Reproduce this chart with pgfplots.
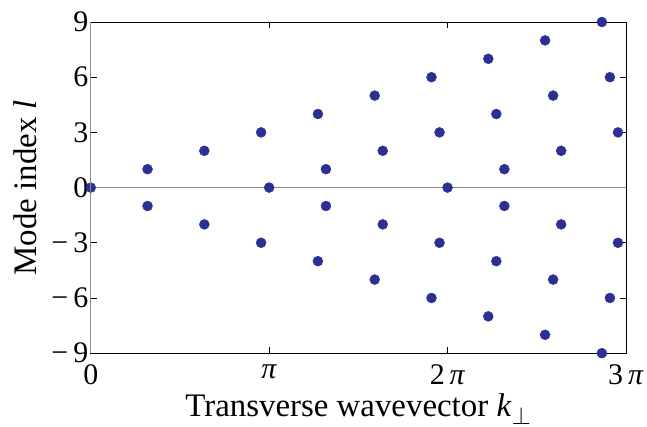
\documentclass[border=0pt]{standalone}
\usepackage{fontspec}
\setmainfont{Liberation Serif}
\usepackage{pgfplots}
\pgfplotsset{compat=1.18}
\definecolor{dotblue}{RGB}{43,48,146}
\definecolor{axgray}{RGB}{140,140,140}

\begin{document}
\begin{tikzpicture}
\begin{axis}[
  name=main,
  scale only axis,
  width=535bp, height=331bp,
  xmin=0, xmax=9.42478, ymin=-9, ymax=9,
  xtick={0,3.14159,6.28319,9.42478},
  xticklabels={\textrm{0}, \textrm{\textit{π}}, \textrm{2\,\textit{π}}, \textrm{3\,\textit{π}}},
  ytick={-9,-6,-3,0,3,6,9},
  yticklabels={\textrm{−\,9},\textrm{−\,6},\textrm{−\,3},\textrm{0},\textrm{3},\textrm{6},\textrm{9}},
  /pgf/number format/assume math mode=true,
  tick align=inside,
  major tick length=6bp,
  tick style={black, line width=0.8bp},
  axis line style={black, line width=0.9bp},
  ticklabel style={font=\fontsize{30}{30}\selectfont\rmfamily},
  xticklabel style={yshift=-8bp},
  yticklabel style={xshift=1bp},
  label style={font=\fontsize{33}{33}\selectfont},
  xlabel={Transverse wavevector \textit{k}$_\perp$},
  ylabel={Mode index \textit{l}},
  xlabel style={at={(axis description cs:0.5,-0.19)}, anchor=base, inner sep=0pt},
  ylabel style={at={(axis description cs:-0.145,0.5)}, anchor=north, inner sep=0pt},
  clip=true,
]
% zero line
\addplot[axgray, line width=1.2bp, forget plot] coordinates {(0,0) (9.42478,0)};

% k = m*pi + |l|
\addplot[only marks, mark=*, mark size=5bp, color=dotblue, mark options={draw=none, fill=dotblue}] coordinates {
  (0,0)
  (1,1) (1,-1) (2,2) (2,-2) (3,3) (3,-3) (4,4) (4,-4) (5,5) (5,-5)
  (6,6) (6,-6) (7,7) (7,-7) (8,8) (8,-8) (9,9) (9,-9)
  (3.1416,0)
  (4.1416,1) (4.1416,-1) (5.1416,2) (5.1416,-2) (6.1416,3) (6.1416,-3)
  (7.1416,4) (7.1416,-4) (8.1416,5) (8.1416,-5) (9.1416,6) (9.1416,-6)
  (6.2832,0)
  (7.2832,1) (7.2832,-1) (8.2832,2) (8.2832,-2) (9.2832,3) (9.2832,-3)
  (9.4248,0)
};
\end{axis}
\draw[axgray, line width=1.4bp] (main.south west) -- (main.north west);
\pgfresetboundingbox
\path[use as bounding box] ([xshift=-90.7bp,yshift=-73bp]main.south west) rectangle ([xshift=21bp,yshift=22bp]main.north east);
\end{tikzpicture}
\end{document}
